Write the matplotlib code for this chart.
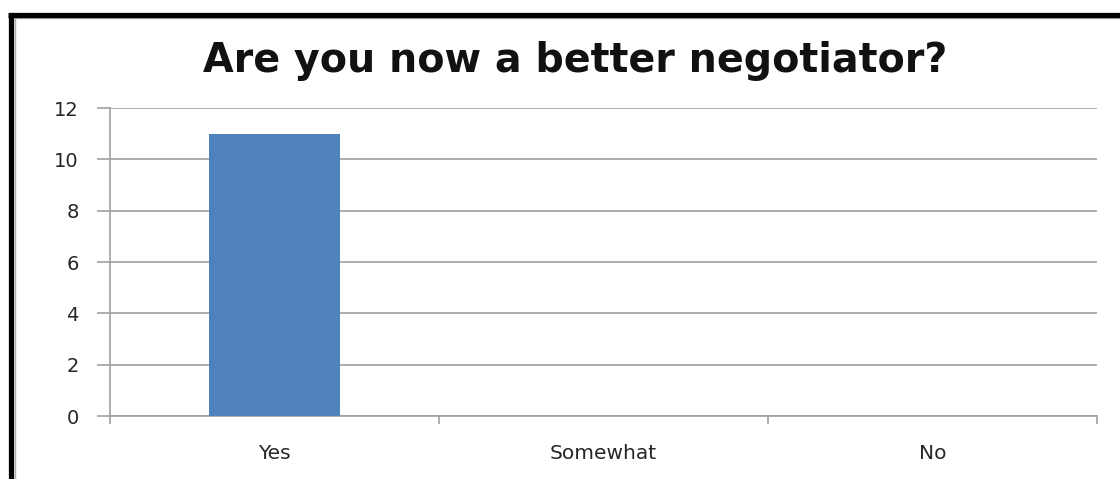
import matplotlib
matplotlib.use("Agg")
import matplotlib.pyplot as plt
from matplotlib.lines import Line2D

categories = ["Yes", "Somewhat", "No"]
values = [11, 0, 0]
yticks = [0, 2, 4, 6, 8, 10, 12]
title = "Are you now a better negotiator?"

fig = plt.figure(figsize=(11.2, 4.79), dpi=100)
fig.patch.set_facecolor("white")
ax = fig.add_axes([110/1120, 1-416/479, (1097-110)/1120, (416-108)/479])

x = list(range(len(categories)))
ax.bar(x, values, width=0.4, color="#4f81bd", zorder=3)
ax.set_xlim(-0.5, len(categories) - 0.5)
ax.set_ylim(0, 12)
ax.set_yticks(yticks)
ax.set_xticks(x)
ax.set_xticklabels(categories)
ax.set_xticks([i - 0.5 for i in range(len(categories) + 1)], minor=True)
ax.tick_params(axis="x", which="major", length=0, pad=20, labelsize=14.5, labelcolor="#262626")
ax.tick_params(axis="x", which="minor", length=5.5, color="#a0a0a0", width=1.2)
ax.tick_params(axis="y", length=9.4, color="#a0a0a0", width=1.2, pad=13, labelsize=14, labelcolor="#262626")
ax.grid(axis="y", color="#a0a0a0", linewidth=1.2, zorder=0)
for s in ["top", "right"]:
    ax.spines[s].set_visible(False)
for s in ["left", "bottom"]:
    ax.spines[s].set_color("#a0a0a0")
    ax.spines[s].set_linewidth(1.2)

fig.text(575/1120, 1-72/479, title, ha="center", va="baseline", fontsize=28.5, fontweight="bold", color="#111111")

# border
fig.add_artist(Line2D([15/1120, 15/1120], [0, 1-17.5/479], color="#b0b0b0", linewidth=1, transform=fig.transFigure))
fig.add_artist(Line2D([15/1120, 1], [1-17.5/479, 1-17.5/479], color="#b0b0b0", linewidth=1, transform=fig.transFigure))
fig.add_artist(Line2D([10.5/1120, 10.5/1120], [0, 1-14.5/479], color="black", linewidth=3.8,
                      solid_capstyle="butt", transform=fig.transFigure))
fig.add_artist(Line2D([8/1120, 1], [1-14.5/479, 1-14.5/479], color="black", linewidth=3.8,
                      solid_capstyle="butt", transform=fig.transFigure))

fig.savefig("out.png", dpi=100)
